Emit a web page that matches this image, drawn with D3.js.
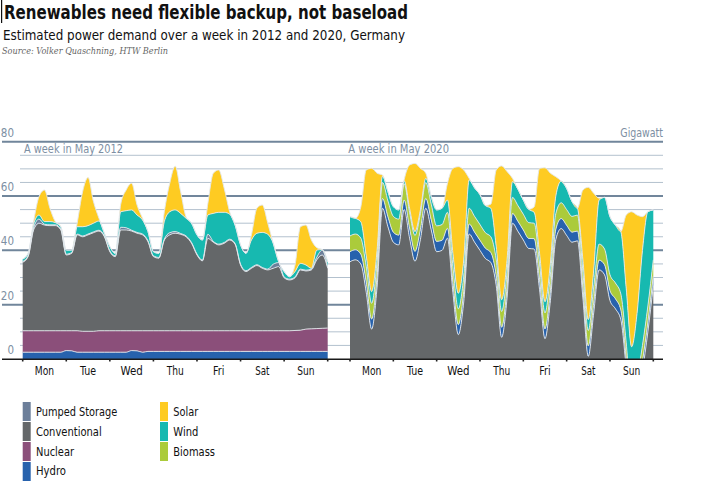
<!DOCTYPE html>
<html><head><meta charset="utf-8">
<script src="https://cdn.jsdelivr.net/npm/d3@7"></script>
<style>
body{margin:0;background:#fff;}
svg{display:block;}
text{font-family:"Liberation Sans Narrow","DejaVu Sans Condensed","Roboto Condensed",Roboto,"Liberation Sans",sans-serif;}
</style></head><body>
<svg id="c" width="709" height="485"></svg>
<script>
// ---------------- DATA ----------------
const hours = [0,3,6,9,12,15,18,21, 24,27,30,33,36,39,42,45, 48,51,54,57,60,63,66,69, 72,75,78,81,84,87,90,93,
  96,99,102,105,108,111,114,117, 120,123,126,129,132,135,138,141, 144,147,150,153,156,159,162,165, 168];
const days = ["Mon","Tue","Wed","Thu","Fri","Sat","Sun"];
const yTickLabels = [0,20,40,60,80];
const gridValues = [5,10,15,25,30,35,45,50,55,65,70,75];

// 2012 (GW)
const hydro2012 = [2.5,2.5,2.5,2.5,2.5,2.5,2.5,2.5, 3.1,3.0,2.5,2.5,2.5,2.5,2.5,2.5, 2.5,2.5,2.5,2.5,3.1,3.0,2.5,2.8,
  2.8,2.8,2.8,2.8,2.8,2.8,2.8,2.8, 2.8,2.8,2.8,2.8,2.8,2.8,2.8,2.8, 2.8,2.8,2.8,2.8,2.8,2.8,2.8,2.8, 2.8,2.8,2.8,2.8,2.8,2.8,2.8,2.8, 2.8];
const nuclear2012 = [7.9,7.9,7.9,7.9,7.9,7.9,7.9,7.9, 7.3,7.4,7.9,7.7,7.7,7.7,7.9,7.9, 7.9,7.9,7.9,7.9,7.3,7.4,7.9,7.6,
  7.6,7.6,7.6,7.6,7.6,7.6,7.6,7.6, 7.6,7.6,7.6,7.6,7.6,7.6,7.6,7.6, 7.6,7.6,7.6,7.6,7.6,7.6,7.6,7.6, 7.6,7.6,7.7,7.8,8.2,8.3,8.4,8.5, 8.6];
const conventional2012 = [25.2,27.3,37.1,39.6,38.9,38.7,38.7,37.1, 27.9,28.5,35.3,34.8,35.5,36.3,36.7,34.6,
  29.1,27.3,37.1,37.1,36.7,35.9,35.3,32.8, 27.3,26.7,33.4,35.3,35.9,35.5,34.6,32.2, 27.9,25.7,34.0,32.6,31.6,32.2,33.4,31.8,
  24.2,21.8,23.0,24.0,23.0,22.4,23.0,23.6, 19.5,18.7,19.4,22.2,21.4,21.7,25.3,27.0, 22.0];
const pumped2012 = [0.3,0.3,0.8,1.5,0.3,0.3,0.3,0.3, 0.3,0.3,0.3,0.3,0.3,0.3,0.3,0.3, 0.3,0.3,1.0,0.8,0.3,0.3,0.3,0.3,
  0.3,0.3,0.3,0.8,0.6,0.3,0.3,0.3, 0.3,0.3,1.5,0.3,0.3,0.3,0.3,0.3, 0.3,0.3,0.3,0.3,0.3,0.3,1.5,1.5, 0.3,0.3,0.3,0.3,0.3,0.3,1.0,1.8, 0.3];
const wind2012 = [0.9,0.9,1.3,1.5,1.0,1.2,0.8,0.9, 1.5,0.9,2.7,3.4,3.1,3.2,3.4,1.0, 1.6,0.9,5.7,6.3,7.5,6.4,5.2,3.4,
  1.5,1.5,6.5,7.7,8.0,7.4,6.5,7.1, 7.1,7.4,7.1,10.3,11.7,11.1,9.2,6.8, 7.1,6.4,10.1,11.6,12.9,12.8,7.7,0.3, 2.0,0.9,2.0,2.1,1.9,0.3,2.6,0.2, 2.1];
const solar2012 = [0,0,1.0,6.8,11.6,4.9,0.3,0, 0,0,1.3,12.9,17.7,7.9,1.0,0, 0,0,2.8,7.6,9.8,3.7,0.6,0,
  0,0,3.6,10.5,16.1,8.0,0.5,0, 0,0,4.3,14.8,15.6,8.8,0.9,0, 0,0,1.9,9.2,10.1,4.1,0,0, 0,0,2.4,13.5,14.7,10.4,0.9,0, 0];

// 2020 (GW)
const conventional2020 = [35.8,36.5,35.0,24.5,11.0,26.5,55.5,48.7, 43.0,42.0,55.0,44.5,36.0,44.0,55.5,47.5,
  39.5,40.0,44.5,24.5,9.0,21.0,46.0,43.0, 40.0,37.0,35.5,27.0,8.0,22.5,50.0,47.0, 43.8,40.7,40.5,25.5,7.5,21.5,44.0,48.0,
  45.5,43.0,43.5,22.5,1.0,17.0,32.8,31.0, 21.5,18.5,14.5,-3.5,-26.0,-16.7,-4.5,10.0, 27.0];
const hydro2020 = [3.7,3.7,3.6,3.8,3.7,3.8,3.6,3.7, 3.7,3.6,3.5,3.7,3.6,3.7,3.6,3.7, 3.8,3.7,3.6,3.7,3.7,3.8,3.7,3.7,
  3.7,3.8,3.7,3.6,3.7,3.7,3.6,3.7, 3.7,3.7,3.8,3.7,3.6,3.7,3.7,3.7, 3.7,3.7,3.6,3.7,3.8,3.7,3.6,3.7, 3.7,3.7,3.6,3.7,3.7,3.7,3.7,3.6, 3.7];
const biomass2020 = [5.8,5.8,5.9,5.7,5.8,5.7,5.9,5.8, 5.8,5.9,6.0,5.8,5.9,5.8,5.9,5.8, 5.7,5.8,5.9,5.8,5.8,5.7,5.8,5.8,
  5.8,5.7,5.8,5.9,5.8,5.8,5.9,5.8, 5.8,5.8,5.7,5.8,5.9,5.8,5.8,5.8, 5.8,5.8,5.9,5.8,5.7,5.8,5.9,5.8, 5.8,5.8,5.9,5.8,5.8,5.8,5.8,5.9, 5.8];
const wind2020 = [7.1,5.8,6.0,4.0,4.3,4.0,2.3,3.4, 3.6,3.4,1.1,1.5,1.4,1.4,1.5,2.8, 5.9,6.0,4.5,4.9,5.7,6.0,10.4,10.5,
  11.0,10.0,10.5,4.9,4.3,4.5,5.8,6.0, 5.2,4.9,4.0,3.9,4.1,4.2,6.5,8.0, 7.8,5.4,2.5,4.5,4.0,6.3,16.2,19.0,
  21.4,21.3,22.9,20.0,21.0,24.0,35.0,34.7, 18.4];
const solar2020 = [0,0,5.5,31.6,45.4,28.4,0.4,0, 0,0,0.4,15.9,25.1,15.3,1.9,0, 0,0,6.2,31.3,46.6,33.1,0.6,0,
  0,0,1.5,28.2,49.3,32.5,1.2,0, 0,0,2.0,31.3,49.3,33.2,7.1,0, 0,0,0,25.7,48.7,28.2,0.7,0, 0,0,0,27.0,49.7,36.2,12.4,0, 0];

const legendLeft = ["Pumped Storage","Conventional","Nuclear","Hydro"];
const legendRight = ["Solar","Wind","Biomass"];

// ---------------- STYLE ----------------
const colors = {
  "Pumped Storage":"#6c7f9a",
  "Conventional":"#646769",
  "Nuclear":"#8b4f7a",
  "Hydro":"#2762ad",
  "Solar":"#fecb22",
  "Wind":"#17b9b0",
  "Biomass":"#abcb3b"
};
const dayW = {"Mon":19.3,"Tue":16,"Wed":22.3,"Thu":17,"Fri":11.3,"Sat":14.3,"Sun":17.3};

const svg = d3.select("#c");
const y = d3.scaleLinear().domain([0,80]).range([359,141.7]);
const x2012 = d3.scaleLinear().domain([0,168]).range([22.7,327.7]);
const x2020 = d3.scaleLinear().domain([0,168]).range([350,653.3]);

function fit(t,w){ t.attr("textLength",w).attr("lengthAdjust","spacingAndGlyphs"); return t; }

// title block
svg.append("rect").attr("x",1).attr("y",0).attr("width",1.2).attr("height",23).attr("fill","#111");
fit(svg.append("text").attr("x",4).attr("y",18.5).attr("font-size",20).attr("font-weight","bold")
  .attr("fill","#111").text("Renewables need flexible backup, not baseload"),404);
fit(svg.append("text").attr("x",3).attr("y",40).attr("font-size",14).attr("fill","#111")
  .text("Estimated power demand over a week in 2012 and 2020, Germany"),402);
fit(svg.append("text").attr("x",2).attr("y",53.5).attr("font-size",8.5).attr("font-style","italic")
  .style("font-family","'DejaVu Serif','Liberation Serif',serif").attr("fill","#666")
  .text("Source: Volker Quaschning, HTW Berlin"),166);

// gridlines
svg.append("g").selectAll("line").data(gridValues).join("line")
  .attr("x1",20).attr("x2",663).attr("y1",d=>y(d)).attr("y2",d=>y(d))
  .attr("stroke","#b3c1ce").attr("stroke-width",1);
svg.append("g").selectAll("line").data(yTickLabels.filter(d=>d>0)).join("line")
  .attr("x1",2).attr("x2",663).attr("y1",d=>y(d)).attr("y2",d=>y(d))
  .attr("stroke","#71869b").attr("stroke-width",2);
svg.append("g").selectAll("text").data(yTickLabels).join("text")
  .attr("x",14).attr("y",d=>y(d)-5).attr("text-anchor","end").attr("font-size",11.5)
  .attr("fill","#7d8fa3").text(d=>d);
fit(svg.append("text").attr("x",663).attr("y",y(80)-5).attr("text-anchor","end").attr("font-size",11.5)
  .attr("fill","#7d8fa3").text("Gigawatt"),42.7);
fit(svg.append("text").attr("x",24).attr("y",152.5).attr("font-size",11.5).attr("fill","#7d8fa3")
  .text("A week in May 2012"),99);
fit(svg.append("text").attr("x",348.3).attr("y",152.5).attr("font-size",11.5).attr("fill","#7d8fa3")
  .text("A week in May 2020"),100.7);

// clip
svg.append("clipPath").attr("id","clipTop").append("rect")
  .attr("x",0).attr("y",0).attr("width",709).attr("height",359);

function panel(series, xs){
  const keys = series.map(s=>s.name);
  const rows = hours.map((h,i)=>{ const r={h}; series.forEach(s=>r[s.name]=s.values[i]); return r; });
  const stacked = d3.stack().keys(keys)(rows);
  const g = svg.append("g").attr("clip-path","url(#clipTop)");
  const area = d3.area().x(d=>xs(d.data.h)).y0(d=>y(d[0])).y1(d=>y(d[1])).curve(d3.curveMonotoneX);
  const line = d3.line().x(d=>xs(d.data.h)).y(d=>y(d[1])).curve(d3.curveMonotoneX);
  g.selectAll("path.a").data(stacked).join("path").attr("class","a")
    .attr("d",area).attr("fill",d=>colors[d.key]);
  g.selectAll("path.l").data(stacked).join("path").attr("class","l")
    .attr("d",line).attr("fill","none").attr("stroke","#e3e8ec").attr("stroke-width",1).attr("stroke-opacity",0.9);
  // ticks and day labels
  const dayTicks = days.map((d,i)=>i*24).concat([168]);
  svg.append("g").selectAll("rect").data(dayTicks).join("rect")
    .attr("x",d=>xs(d)-0.8).attr("y",359).attr("width",1.6).attr("height",2.5).attr("fill","#222");
  svg.append("g").selectAll("text").data(days).join("text")
    .attr("x",(d,i)=>xs(i*24+12)).attr("y",375).attr("text-anchor","middle")
    .attr("font-size",11.5).attr("fill","#111").attr("textLength",d=>dayW[d])
    .attr("lengthAdjust","spacingAndGlyphs").text(d=>d);
}

panel([
  {name:"Hydro",values:hydro2012},
  {name:"Nuclear",values:nuclear2012},
  {name:"Conventional",values:conventional2012},
  {name:"Pumped Storage",values:pumped2012},
  {name:"Wind",values:wind2012},
  {name:"Solar",values:solar2012}
], x2012);
panel([
  {name:"Conventional",values:conventional2020},
  {name:"Hydro",values:hydro2020},
  {name:"Biomass",values:biomass2020},
  {name:"Wind",values:wind2020},
  {name:"Solar",values:solar2020}
], x2020);

// baseline
svg.append("line").attr("x1",2).attr("x2",663).attr("y1",359.2).attr("y2",359.2)
  .attr("stroke","#1a1a1a").attr("stroke-width",1.4);

// legend
const legW = {"Pumped Storage":81.3,"Conventional":65.7,"Nuclear":38,"Hydro":30,"Solar":25,"Wind":25,"Biomass":41.7};
function legend(items, x0){
  items.forEach((name,i)=>{
    svg.append("rect").attr("x",x0).attr("y",402+i*20).attr("width",8).attr("height",19).attr("fill",colors[name]);
    fit(svg.append("text").attr("x",x0+13.3).attr("y",416.3+i*19.7).attr("font-size",12.5).attr("fill","#111").text(name),legW[name]);
  });
}
legend(legendLeft,22.7);
legend(legendRight,160);
</script>
</body></html>
